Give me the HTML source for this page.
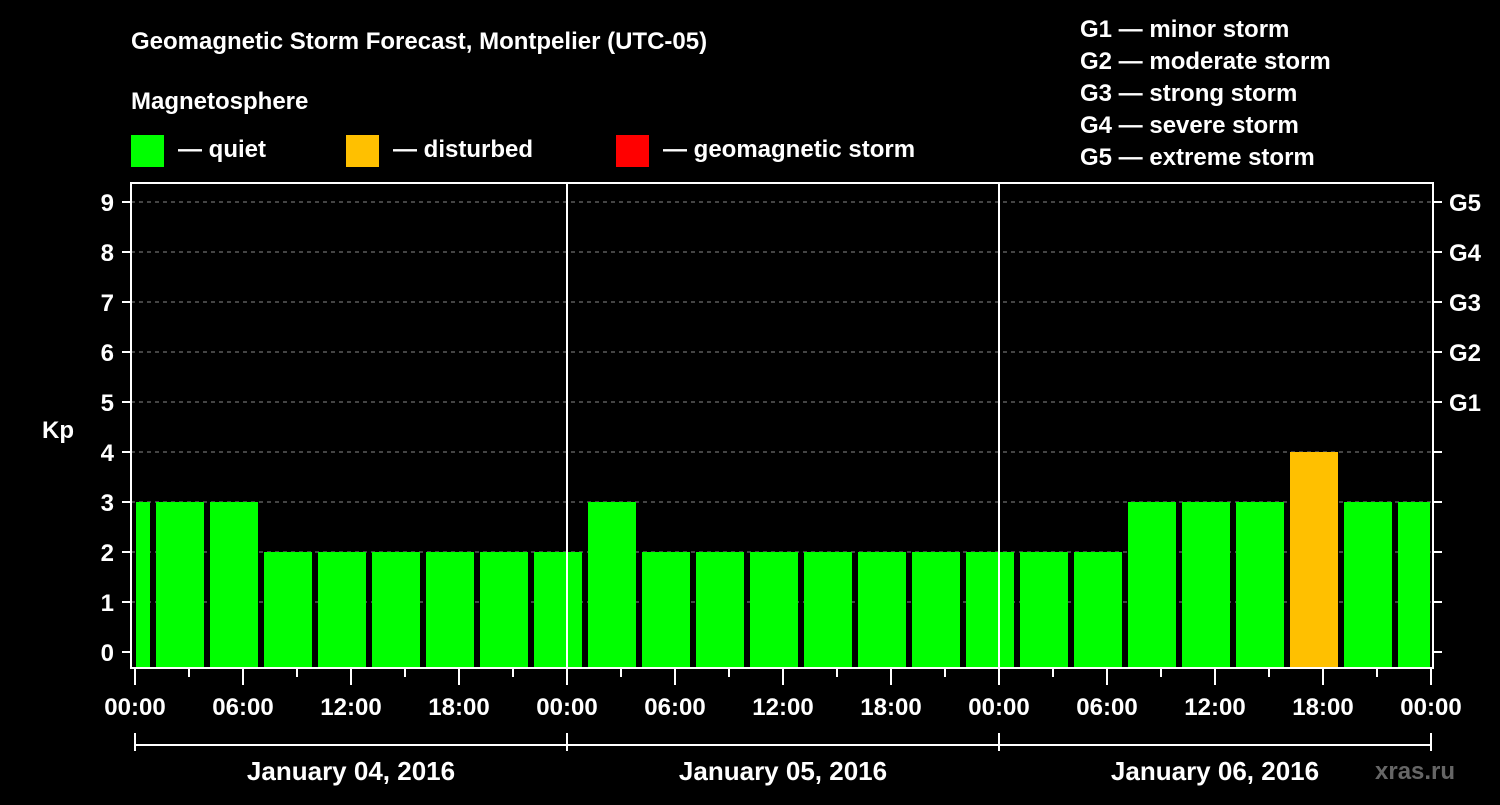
<!DOCTYPE html>
<html><head><meta charset="utf-8"><style>
body{margin:0;background:#000;width:1500px;height:800px;overflow:hidden}
svg text{font-family:"Liberation Sans",Arial,sans-serif;font-weight:bold;fill:#fff}
</style></head><body>
<svg id="c" width="1500" height="800">
<text x="131" y="49" font-size="24">Geomagnetic Storm Forecast, Montpelier (UTC-05)</text>
<text x="131" y="109" font-size="24">Magnetosphere</text>
<rect x="131" y="135" width="33" height="32" fill="#00ff00"/>
<text x="178" y="157" font-size="24">— quiet</text>
<rect x="346" y="135" width="33" height="32" fill="#ffc000"/>
<text x="393" y="157" font-size="24">— disturbed</text>
<rect x="616" y="135" width="33" height="32" fill="#ff0000"/>
<text x="663" y="157" font-size="24">— geomagnetic storm</text>
<g font-size="24">
<text x="1080" y="37">G1 — minor storm</text>
<text x="1080" y="69">G2 — moderate storm</text>
<text x="1080" y="101">G3 — strong storm</text>
<text x="1080" y="133">G4 — severe storm</text>
<text x="1080" y="165">G5 — extreme storm</text>
</g>
<text x="42" y="438" font-size="24">Kp</text>
<text x="1375" y="779" font-size="24" fill="#666" style="fill:#666">xras.ru</text>
<g id="plot"></g>
</svg>
<script>
const kpValues=[3,3,3,2,2,2,2,2,2,3,2,2,2,2,2,2,2,2,2,3,3,3,4,3,3];
const binStartHour=-2;
const yTicks=[0,1,2,3,4,5,6,7,8,9];
const gLabels=["G1","G2","G3","G4","G5"];
const xLabels=["00:00","06:00","12:00","18:00"];
const dayLabels=["January 04, 2016","January 05, 2016","January 06, 2016"];
const L=131,R=1433,T=183,B=668,X0=135;
const xs=h=>X0+h*18;
const ys=v=>652-v*50;
const NS="http://www.w3.org/2000/svg";
const p=document.getElementById('plot');
function mk(t,a,parent){const e=document.createElementNS(NS,t);for(const k in a)e.setAttribute(k,a[k]);(parent||p).appendChild(e);return e;}
yTicks.forEach(v=>{
 if(v>0){const g=mk('line',{x1:L,x2:R,y1:ys(v),y2:ys(v),stroke:'#888','stroke-dasharray':'4 4','stroke-width':1});
 
 }
 const t=mk('line',{x1:122,x2:L,y1:ys(v),y2:ys(v),stroke:'#fff','stroke-width':2});
 
 
 const t2=mk('line',{x1:R,x2:1442,y1:ys(v),y2:ys(v),stroke:'#fff','stroke-width':2});
 
 
 const l=mk('text',{x:114,y:ys(v)+9,'font-size':24,'text-anchor':'end'});l.textContent=v;
 
 
 if(v>=5){const g=mk('text',{x:1449,y:ys(v)+9,'font-size':24});g.textContent=gLabels[v-5];
 
 }
});
kpValues.forEach((v,i)=>{
 const h0=binStartHour+i*3;
 let x1=xs(h0)+3,x2=xs(h0+3)-3;
 x1=Math.max(x1,L+5);x2=Math.min(x2,R-3);
 const r=mk('rect',{x:x1,y:ys(v),width:x2-x1,height:B-ys(v),fill:v>=5?'#ff0000':v>=4?'#ffc000':'#00ff00'});
 
 
});
[1,2].forEach(d=>{const s=mk('line',{x1:xs(d*24),x2:xs(d*24),y1:T,y2:B,stroke:'#fff','stroke-width':2});
 
 });
const f=mk('rect',{x:L,y:T,width:R-L,height:B-T,fill:'none',stroke:'#fff','stroke-width':2});


for(let h=0;h<=72;h+=3){
 const major=h%6===0;
 const t=mk('line',{x1:xs(h),x2:xs(h),y1:B,y2:major?685:677,stroke:'#fff','stroke-width':2});
 
 
 if(major){const l=mk('text',{x:xs(h),y:715,'font-size':24,'text-anchor':'middle'});l.textContent=xLabels[(h/6)%4];
 
 }
}
const br=mk('line',{x1:xs(0),x2:xs(72),y1:745,y2:745,stroke:'#fff','stroke-width':2});


for(let d=0;d<=3;d++){const v=mk('line',{x1:xs(d*24),x2:xs(d*24),y1:733,y2:751,stroke:'#fff','stroke-width':2});
 
 }
dayLabels.forEach((s,d)=>{const l=mk('text',{x:xs(d*24+12),y:780,'font-size':26,'text-anchor':'middle'});l.textContent=s;
 
 });
</script>
</body></html>
